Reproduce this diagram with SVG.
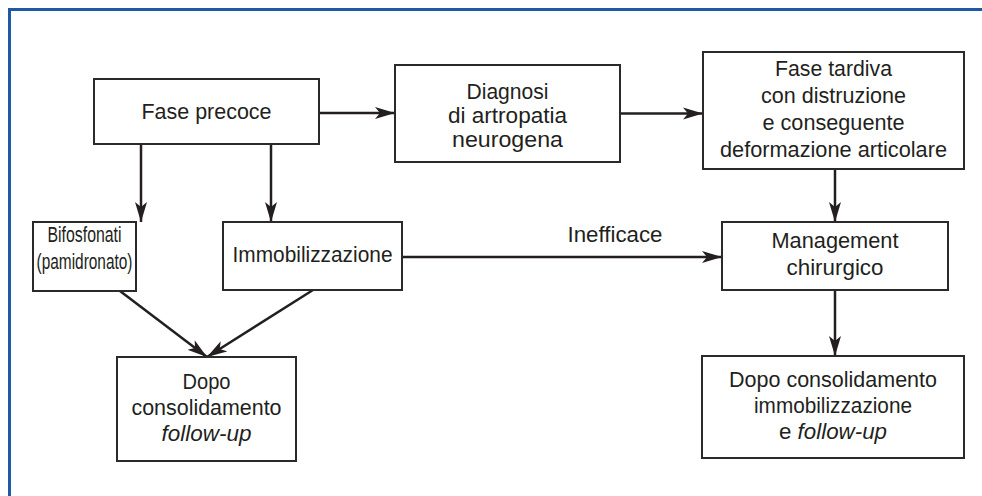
<svg xmlns="http://www.w3.org/2000/svg" width="982" height="496" viewBox="0 0 982 496">
<style>
.box{fill:#fff;stroke:#2a2a2a;stroke-width:2}
.t{font-family:"Liberation Sans",Arial,sans-serif;font-size:22px;fill:#231f20;text-anchor:middle}
.it{font-style:italic}
.c{stroke:#231f20;stroke-width:2.5;fill:none;marker-end:url(#ah)}
</style>
<defs>
<marker id="ah" markerUnits="userSpaceOnUse" markerWidth="21" markerHeight="14" refX="20" refY="7" orient="auto" viewBox="0 0 21 14">
<path d="M0,1 L20,7 L0,13 L5,7 Z" fill="#231f20"/>
</marker>
</defs>
<rect width="982" height="496" fill="#fff"/>
<path d="M9.5,496 V9.5 H982" fill="none" stroke="#1d5aa3" stroke-width="3"/>
<g id="connectors">
<line class="c" x1="319" y1="113" x2="395" y2="113"/>
<line class="c" x1="620" y1="113.5" x2="703" y2="113.5"/>
<line class="c" x1="141" y1="144" x2="141" y2="222"/>
<line class="c" x1="271" y1="144" x2="271" y2="222"/>
<line class="c" x1="835" y1="169" x2="835" y2="222"/>
<line class="c" x1="402" y1="257" x2="722" y2="257"/>
<line class="c" x1="835" y1="290" x2="835" y2="356"/>
<line class="c" x1="120" y1="291" x2="207" y2="357"/>
<line class="c" x1="313" y1="290" x2="207" y2="357"/>
<text class="t" x="615" y="242" textLength="95" lengthAdjust="spacingAndGlyphs">Inefficace</text>
</g>
<g id="fase-precoce">
<rect class="box" x="94" y="79" width="225" height="65"/>
<text class="t" x="206.5" y="119" textLength="130" lengthAdjust="spacingAndGlyphs">Fase precoce</text>
</g>
<g id="diagnosi">
<rect class="box" x="395" y="65" width="225" height="97"/>
<text class="t" x="507.5" y="99" textLength="82" lengthAdjust="spacingAndGlyphs">Diagnosi</text>
<text class="t" x="507.5" y="123" textLength="119" lengthAdjust="spacingAndGlyphs">di artropatia</text>
<text class="t" x="507.5" y="147" textLength="111" lengthAdjust="spacingAndGlyphs">neurogena</text>
</g>
<g id="fase-tardiva">
<rect class="box" x="703" y="52" width="261" height="117"/>
<text class="t" x="833.5" y="76" textLength="117" lengthAdjust="spacingAndGlyphs">Fase tardiva</text>
<text class="t" x="833.5" y="103" textLength="145" lengthAdjust="spacingAndGlyphs">con distruzione</text>
<text class="t" x="833.5" y="130" textLength="142" lengthAdjust="spacingAndGlyphs">e conseguente</text>
<text class="t" x="833.5" y="157" textLength="227" lengthAdjust="spacingAndGlyphs">deformazione articolare</text>
</g>
<g id="bifosfonati">
<rect class="box" x="33" y="222" width="103" height="69"/>
<text class="t" x="84.5" y="242" textLength="74" lengthAdjust="spacingAndGlyphs">Bifosfonati</text>
<text class="t" x="84.5" y="269" textLength="96" lengthAdjust="spacingAndGlyphs">(pamidronato)</text>
</g>
<g id="immobilizzazione">
<rect class="box" x="223" y="222" width="179" height="68"/>
<text class="t" x="312.5" y="262" textLength="160" lengthAdjust="spacingAndGlyphs">Immobilizzazione</text>
</g>
<g id="management">
<rect class="box" x="722" y="222" width="226" height="68"/>
<text class="t" x="835" y="248" textLength="127" lengthAdjust="spacingAndGlyphs">Management</text>
<text class="t" x="835" y="275" textLength="97" lengthAdjust="spacingAndGlyphs">chirurgico</text>
</g>
<g id="dopo-sx">
<rect class="box" x="117" y="357" width="179" height="104"/>
<text class="t" x="206.5" y="389" textLength="48" lengthAdjust="spacingAndGlyphs">Dopo</text>
<text class="t" x="206.5" y="415" textLength="150" lengthAdjust="spacingAndGlyphs">consolidamento</text>
<text class="t it" x="206.5" y="441" textLength="90" lengthAdjust="spacingAndGlyphs">follow-up</text>
</g>
<g id="dopo-dx">
<rect class="box" x="702" y="356" width="262" height="102"/>
<text class="t" x="833" y="387" textLength="208" lengthAdjust="spacingAndGlyphs">Dopo consolidamento</text>
<text class="t" x="833" y="413" textLength="158" lengthAdjust="spacingAndGlyphs">immobilizzazione</text>
<text class="t" x="833" y="439" textLength="108" lengthAdjust="spacingAndGlyphs">e <tspan class="it">follow-up</tspan></text>
</g>
</svg>
